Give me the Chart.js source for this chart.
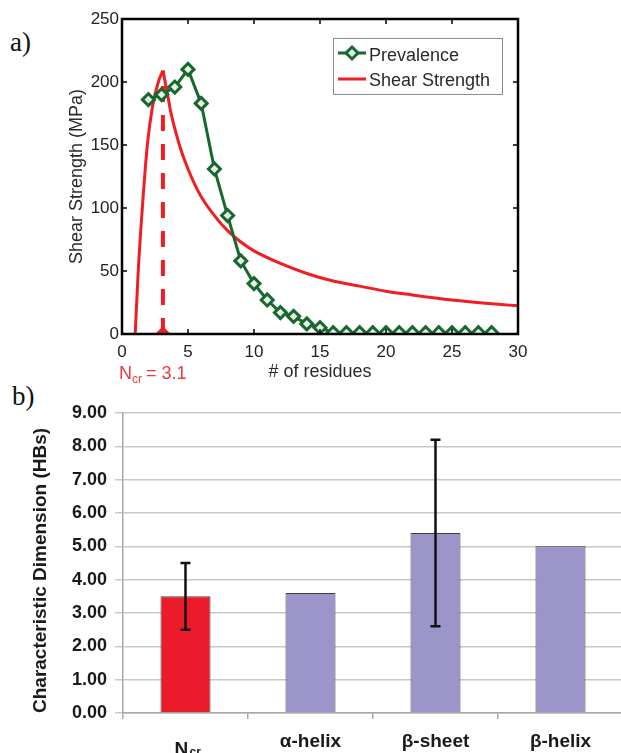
<!DOCTYPE html>
<html>
<head>
<meta charset="utf-8">
<script src="https://cdn.jsdelivr.net/npm/chart.js@4.4.1/dist/chart.umd.min.js"></script>
<style>
  html, body { margin: 0; padding: 0; background: #fff; overflow: hidden; }
  body { width: 621px; height: 753px; position: relative; }
  .panel { position: absolute; left: 0; }
  .tag { position: absolute; font-family: "Liberation Serif", serif; font-size: 27px; color: #111; line-height: 1; }
</style>
</head>
<body>
<div class="tag" style="left:10px; top:29px;">a)</div>
<div class="tag" style="left:12px; top:383px;">b)</div>
<div class="panel" style="top:0;"><canvas id="shearChart" width="621" height="385"></canvas></div>
<div class="panel" style="top:380px;"><canvas id="dimChart" width="625" height="373"></canvas></div>
<script>
// panel a) data
const residues = [2, 3, 4, 5, 6, 7, 8, 9, 10, 11, 12, 13, 14, 15, 16, 17, 18, 19, 20, 21, 22, 23, 24, 25, 26, 27, 28];
const prevalence = [186, 190, 196, 210, 183, 131, 94, 58, 40, 27, 17, 14, 8, 5, 1, 1, 1, 1, 1, 1, 1, 1, 1, 1, 1, 1, 1];
const shearRiseX = [1.0, 1.23, 1.54, 1.92, 2.3, 2.75, 3.1];
const shearRiseY = [0, 50, 100, 150, 180, 200, 209];
const shearFallX = [3.1, 3.4, 3.7, 4.0, 4.5, 5, 5.5, 6, 7, 8, 9, 10, 12, 14, 16, 18, 20, 22, 25, 28, 30];
const shearFallY = [209, 193, 176, 163, 145, 131, 119, 109, 94, 82, 73, 66, 56, 48, 42, 38, 34, 31, 27, 24, 22.4];
const nCritical = 3.1;
const nCriticalPeak = 209;
const xTicksA = [0, 5, 10, 15, 20, 25, 30];
const yTicksA = [0, 50, 100, 150, 200, 250];

// panel b) data
const structures = ["N_cr", "α-helix", "β-sheet", "β-helix"];
const dimension = [3.5, 3.6, 5.4, 5.0];
const errLow = [2.5, null, 2.6, null];
const errHigh = [4.5, null, 8.2, null];

const SANS = "'Liberation Sans', Arial, sans-serif";
const GREEN = "#17672e";
const RED = "#f01e23";

function toPoints(xs, ys) {
  return xs.map((x, i) => ({ x: x, y: ys[i] }));
}

function diamond(ctx, x, y, r) {
  ctx.beginPath();
  ctx.moveTo(x, y - r);
  ctx.lineTo(x + r, y);
  ctx.lineTo(x, y + r);
  ctx.lineTo(x - r, y);
  ctx.closePath();
}

const frameAndLegend = {
  id: "frameAndLegend",
  afterDraw(chart) {
    const ctx = chart.ctx;
    const a = chart.chartArea;
    const xs = chart.scales.x;
    const ys = chart.scales.y;
    ctx.save();
    ctx.strokeStyle = "#000";
    ctx.lineWidth = 1.5;
    xTicksA.forEach(v => {
      const px = xs.getPixelForValue(v);
      ctx.beginPath();
      ctx.moveTo(px, a.bottom); ctx.lineTo(px, a.bottom - 5);
      ctx.moveTo(px, a.top); ctx.lineTo(px, a.top + 5);
      ctx.stroke();
    });
    yTicksA.forEach(v => {
      const py = ys.getPixelForValue(v);
      ctx.beginPath();
      ctx.moveTo(a.left, py); ctx.lineTo(a.left + 5, py);
      ctx.moveTo(a.right, py); ctx.lineTo(a.right - 5, py);
      ctx.stroke();
    });
    ctx.lineWidth = 2.5;
    ctx.strokeRect(a.left, a.top, a.right - a.left, a.bottom - a.top);

    // legend
    ctx.lineWidth = 1;
    ctx.strokeStyle = "#8c8c8c";
    ctx.strokeRect(333.5, 38.5, 169, 56);
    ctx.lineWidth = 3;
    ctx.strokeStyle = GREEN;
    ctx.beginPath(); ctx.moveTo(338, 53); ctx.lineTo(366, 53); ctx.stroke();
    diamond(ctx, 352, 53, 6);
    ctx.fillStyle = "#e9f1eb";
    ctx.fill();
    ctx.lineWidth = 3;
    ctx.stroke();
    ctx.strokeStyle = RED;
    ctx.beginPath(); ctx.moveTo(338, 79); ctx.lineTo(366, 79); ctx.stroke();
    ctx.fillStyle = "#2a2a2a";
    ctx.font = "18px " + SANS;
    ctx.textBaseline = "middle";
    ctx.textAlign = "left";
    ctx.fillText("Prevalence", 369, 56);
    ctx.fillText("Shear Strength", 369, 81);

    // N_cr label under the axis
    const nx = xs.getPixelForValue(nCritical);
    ctx.fillStyle = "#ef3a3a";
    ctx.textBaseline = "alphabetic";
    ctx.font = "18px " + SANS;
    ctx.fillText("N", nx - 44, 379);
    ctx.font = "12px " + SANS;
    ctx.fillText("cr", nx - 31, 383);
    ctx.font = "18px " + SANS;
    ctx.fillText("= 3.1", nx - 17, 379);
    ctx.restore();
  }
};

new Chart(document.getElementById("shearChart"), {
  type: "scatter",
  data: {
    datasets: [
      {
        label: "Prevalence",
        data: toPoints(residues, prevalence),
        showLine: true,
        borderColor: GREEN,
        borderWidth: 3,
        pointStyle: "rectRot",
        pointRadius: 6,
        pointBorderWidth: 3,
        pointBorderColor: GREEN,
        pointBackgroundColor: "#e9f1eb"
      },
      {
        label: "Shear Strength",
        data: toPoints(shearRiseX, shearRiseY),
        showLine: true,
        cubicInterpolationMode: "monotone",
        borderColor: RED,
        borderWidth: 3,
        pointRadius: 0
      },
      {
        label: "Shear Strength (decay)",
        data: toPoints(shearFallX, shearFallY),
        showLine: true,
        cubicInterpolationMode: "monotone",
        borderColor: RED,
        borderWidth: 3,
        pointRadius: 0
      },
      {
        label: "N_cr",
        data: [{ x: nCritical, y: 0 }, { x: nCritical, y: nCriticalPeak }],
        showLine: true,
        borderColor: RED,
        borderWidth: 4,
        borderDash: [16, 13],
        pointStyle: "rectRot",
        pointRadius: [5, 0],
        pointBackgroundColor: RED,
        pointBorderColor: RED
      }
    ]
  },
  options: {
    responsive: false,
    animation: false,
    layout: { padding: { top: 19, right: 103, left: 0, bottom: 0 } },
    plugins: { legend: { display: false }, tooltip: { enabled: false } },
    scales: {
      x: {
        type: "linear",
        min: 0,
        max: 30,
        afterBuildTicks: s => { s.ticks = xTicksA.map(v => ({ value: v })); },
        afterFit: s => { s.height = 51; },
        grid: { display: false, drawTicks: false },
        border: { display: false },
        ticks: { font: { family: SANS, size: 17 }, color: "#222", padding: 8 },
        title: { display: true, text: "# of residues", font: { family: SANS, size: 18 }, color: "#2a2a2a", padding: { top: 0, bottom: 2 } }
      },
      y: {
        min: 0,
        max: 250,
        afterBuildTicks: s => { s.ticks = yTicksA.map(v => ({ value: v })); },
        afterFit: s => { s.width = 122; },
        grid: { display: false, drawTicks: false },
        border: { display: false },
        ticks: { font: { family: SANS, size: 17 }, color: "#222", padding: 3 },
        title: { display: true, text: "Shear Strength (MPa)", font: { family: SANS, size: 18 }, color: "#2a2a2a", padding: { top: 66, bottom: 0 } }
      }
    }
  },
  plugins: [frameAndLegend]
});

const errorBarsAndSubscript = {
  id: "errorBarsAndSubscript",
  afterDatasetsDraw(chart) {
    const ctx = chart.ctx;
    const xs = chart.scales.x;
    const ys = chart.scales.y;
    ctx.save();
    ctx.strokeStyle = "#111";
    ctx.lineWidth = 2.5;
    errLow.forEach((lo, i) => {
      if (lo === null) return;
      const px = xs.getPixelForValue(i);
      const top = ys.getPixelForValue(errHigh[i]);
      const bot = ys.getPixelForValue(lo);
      ctx.beginPath();
      ctx.moveTo(px, top); ctx.lineTo(px, bot);
      ctx.moveTo(px - 5, top); ctx.lineTo(px + 5, top);
      ctx.moveTo(px - 5, bot); ctx.lineTo(px + 5, bot);
      ctx.stroke();
    });
    ctx.restore();
  },
  afterDraw(chart) {
    const ctx = chart.ctx;
    const px = chart.scales.x.getPixelForValue(0);
    ctx.save();
    ctx.fillStyle = "#1a1a1a";
    ctx.textBaseline = "alphabetic";
    ctx.textAlign = "left";
    ctx.font = "bold 19px " + SANS;
    ctx.fillText("N", px - 11, 375);
    ctx.font = "bold 12px " + SANS;
    ctx.fillText("cr", px + 4, 376);
    ctx.restore();
  }
};

new Chart(document.getElementById("dimChart"), {
  type: "bar",
  data: {
    labels: structures,
    datasets: [{
      data: dimension,
      backgroundColor: ["#ec1b2b", "#9b95c9", "#9b95c9", "#9b95c9"],
      borderColor: "#3c3c3c",
      borderWidth: 1,
      barPercentage: 0.4,
      categoryPercentage: 1.0
    }]
  },
  options: {
    responsive: false,
    animation: false,
    layout: { padding: { top: 33, right: 2, left: 0, bottom: 0 } },
    plugins: { legend: { display: false }, tooltip: { enabled: false } },
    scales: {
      x: {
        afterFit: s => { s.height = 40; },
        grid: { offset: true, drawOnChartArea: false, tickLength: 6, color: "#a8a8a8", lineWidth: 1.5 },
        border: { display: true, color: "#a8a8a8", width: 1.5 },
        ticks: {
          font: { family: SANS, size: 19, weight: "bold" },
          color: "#1a1a1a",
          padding: 11,
          callback: (v, i) => (i === 0 ? "" : structures[i])
        }
      },
      y: {
        min: 0,
        max: 9,
        afterFit: s => { s.width = 123; },
        grid: { color: "#c8c8c8", lineWidth: 1.5, tickLength: 8 },
        border: { display: true, color: "#a8a8a8", width: 1.5 },
        ticks: {
          stepSize: 1,
          font: { family: SANS, size: 18, weight: "bold" },
          color: "#1a1a1a",
          padding: 8,
          callback: v => v.toFixed(2)
        },
        title: {
          display: true,
          text: "Characteristic Dimension (HBs)",
          font: { family: SANS, size: 19, weight: "bold" },
          color: "#1a1a1a",
          align: "start",
          padding: { top: 29, bottom: 0 }
        }
      }
    }
  },
  plugins: [errorBarsAndSubscript]
});
</script>
</body>
</html>
